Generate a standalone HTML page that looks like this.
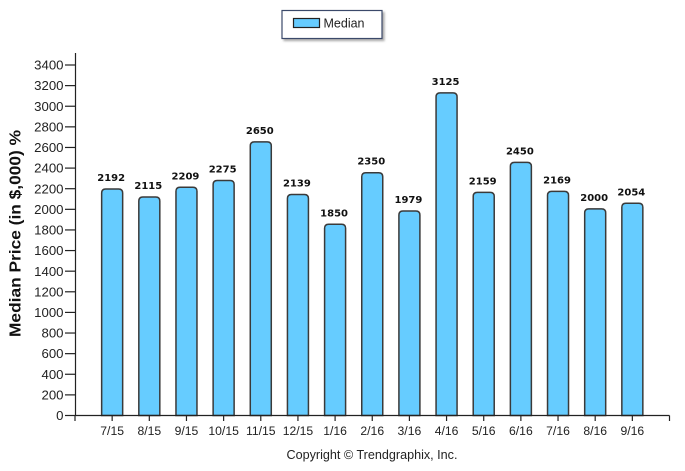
<!DOCTYPE html>
<html><head><meta charset="utf-8"><style>
html,body{margin:0;padding:0;background:#fff;}
svg{display:block;}
text{font-family:"Liberation Sans",sans-serif;}
text.v{font-family:"DejaVu Sans",sans-serif;font-weight:bold;font-size:10px;}
</style></head><body>
<svg width="685" height="471" viewBox="0 0 685 471" xmlns="http://www.w3.org/2000/svg">
<defs>
<filter id="sh" x="-10%" y="-10%" width="130%" height="150%"><feDropShadow dx="2" dy="2" stdDeviation="1" flood-color="#888" flood-opacity="0.7"/></filter>
</defs>
<rect width="685" height="471" fill="#fff"/>
<!-- legend -->
<rect x="282" y="10.5" width="100" height="28" fill="#fff" stroke="#3a4a6a" stroke-width="1.2" filter="url(#sh)"/>
<rect x="293.5" y="18.5" width="26" height="9" fill="#66ccff" stroke="#222" stroke-width="1.2"/>
<text x="323.5" y="27.5" font-size="12.5" fill="#222">Median</text>
<!-- y axis title -->
<text transform="translate(20.5,337) rotate(-90)" font-size="15.5" font-weight="bold" fill="#111" textLength="207" lengthAdjust="spacingAndGlyphs">Median Price (in $,000) %</text>
<!-- axes -->
<line x1="75.5" y1="53" x2="75.5" y2="416" stroke="#222" stroke-width="1.2"/>
<text x="372" y="459" font-size="12.6" fill="#222" text-anchor="middle">Copyright © Trendgraphix, Inc.</text>
<script>
(function(){
var ns="http://www.w3.org/2000/svg";
var svg=document.querySelector('svg');
function el(t,a,txt){var e=document.createElementNS(ns,t);for(var k in a)e.setAttribute(k,a[k]);if(txt!=null)e.textContent=txt;svg.appendChild(e);return e;}
var y0=415.5,sc=350.5/3400;
for(var v=0;v<=3400;v+=200){
 var y=y0-v*sc;
 el('line',{x1:65,y1:y,x2:75,y2:y,stroke:'#222','stroke-width':1.2});
 el('text',{x:63.5,y:y+4.6,'font-size':13.2,fill:'#222','text-anchor':'end'},String(v));
}
var labels=['7/15','8/15','9/15','10/15','11/15','12/15','1/16','2/16','3/16','4/16','5/16','6/16','7/16','8/16','9/16'];
var vals=[2192,2115,2209,2275,2650,2139,1850,2350,1979,3125,2159,2450,2169,2000,2054];
var step=594.5/16;
for(var k=0;k<=16;k++){var x=75+k*step;el('line',{x1:x,y1:415.5,x2:x,y2:421,stroke:'#222','stroke-width':1.2});}
for(var i=0;i<15;i++){
 var cx=75+(i+1)*step, w=21, l=cx-w/2, r=cx+w/2, t=y0-vals[i]*sc-0.5, rr=4;
 el('path',{d:'M'+l+','+y0+' L'+l+','+(t+rr)+' Q'+l+','+t+' '+(l+rr)+','+t+' L'+(r-rr)+','+t+' Q'+r+','+t+' '+r+','+(t+rr)+' L'+r+','+y0+' Z',fill:'#66ccff',stroke:'#3a3a3a','stroke-width':1.5});
 el('text',{'class':'v',x:cx-1,y:t-8,fill:'#111','text-anchor':'middle'},String(vals[i]));
 el('text',{x:cx,y:435,'font-size':12.2,fill:'#222','text-anchor':'middle'},labels[i]);
}
el('line',{x1:75,y1:415.5,x2:669.5,y2:415.5,stroke:'#222','stroke-width':1.2});
})();
</script>
</svg>
</body></html>
